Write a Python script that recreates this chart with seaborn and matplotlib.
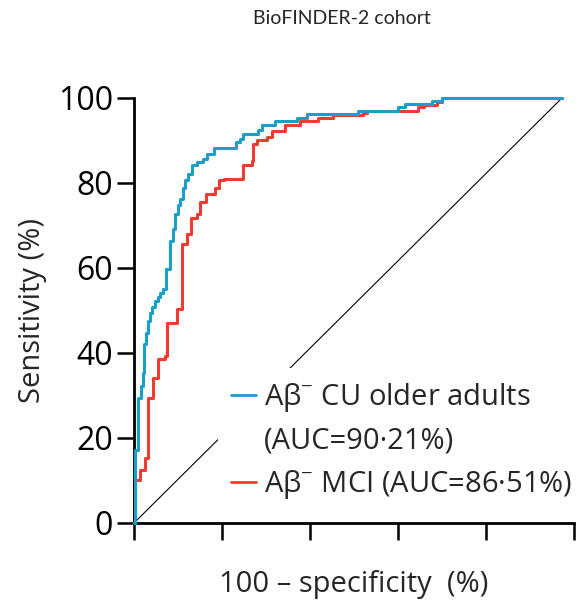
import numpy as np
import pandas as pd
import matplotlib.pyplot as plt
from matplotlib.lines import Line2D
import seaborn as sns

# ROC curves (100 - specificity, sensitivity), in %
cu_fpr = [0, 0.2, 0.9, 1.6, 2.1, 2.3, 2.8, 3.3, 3.7, 4.2, 4.9, 5.6, 6.1, 6.8,
          7.5, 8.4, 9.1, 9.6, 10.3, 10.7, 11.5, 11.9, 12.6, 13.6, 14.7, 16.1,
          17.1, 18.7, 23.8, 24.8, 25.5, 29.0, 29.9, 32.9, 38.1, 40.4, 52.3,
          61.7, 63.3, 69.6, 72.0, 100]
cu_tpr = [0, 17.1, 29.3, 32.3, 35.4, 42.2, 44.7, 47.5, 49.4, 50.8, 52.2, 53.2,
          54.1, 55.0, 59.7, 66.3, 69.1, 72.6, 74.9, 76.3, 78.7, 80.8, 82.2,
          84.3, 85.0, 85.7, 86.7, 88.3, 89.7, 90.4, 91.6, 92.5, 93.7, 94.6,
          95.3, 96.3, 97.0, 97.9, 98.6, 99.3, 100, 100]

mci_fpr = [0, 0.0, 1.4, 2.6, 3.3, 4.4, 5.6, 7.2, 7.7, 10.1, 11.2, 12.4, 13.3,
           14.7, 15.4, 16.8, 18.9, 19.9, 21.0, 25.5, 27.6, 27.8, 28.7, 31.1,
           32.2, 35.3, 38.8, 43.0, 46.5, 53.5, 54.4, 66.4, 67.8, 70.8, 72.0, 100]
mci_tpr = [0, 10.1, 12.4, 15.2, 29.3, 34.2, 38.6, 39.3, 47.1, 50.4, 65.6, 67.9,
           71.7, 72.6, 75.6, 77.3, 78.7, 80.6, 81.0, 84.3, 85.2, 89.2, 90.2,
           90.9, 92.3, 93.7, 94.6, 95.3, 96.0, 96.5, 97.0, 97.9, 98.4, 99.1,
           100, 100]

chance = [0, 100]

cu_label = "A\u03b2$^{-}$ CU older adults"
cu_auc = "(AUC=90\u00b721%)"
mci_label = "A\u03b2$^{-}$ MCI (AUC=86\u00b751%)"
colors = ["#1aa0c8", "#f23a30"]

sns.set_style("ticks")
plt.rcParams["font.family"] = ["Open Sans", "DejaVu Sans"]
plt.rcParams["mathtext.fontset"] = "custom"
plt.rcParams["mathtext.rm"] = "Open Sans"
plt.rcParams["mathtext.it"] = "Open Sans:italic"
plt.rcParams["mathtext.bf"] = "Open Sans:bold"

fig = plt.figure(figsize=(5.85, 6.07), dpi=100)
ax = fig.add_axes([0.2291, 0.1384, 0.7521, 0.7002])

sns.lineplot(x=chance, y=chance, ax=ax, color="black", lw=0.8, zorder=1)
sns.lineplot(x=cu_fpr, y=cu_tpr, ax=ax, color=colors[0], lw=2.2, sort=False,
             estimator=None, drawstyle="steps-post", clip_on=False, zorder=3)
sns.lineplot(x=mci_fpr, y=mci_tpr, ax=ax, color=colors[1], lw=2.2, sort=False,
             estimator=None, drawstyle="steps-post", clip_on=False, zorder=2)

x_max = 102.8
ax.set_xlim(0, x_max)
ax.set_ylim(0, 100)
ax.set_xticks(np.linspace(0, x_max, 6))
ax.set_xticklabels([])
ax.set_yticks([0, 20, 40, 60, 80, 100])
ax.tick_params(length=12, width=1.8, labelsize=23, pad=3, colors="black")
for s in ["left", "bottom"]:
    ax.spines[s].set_linewidth(2)
    ax.spines[s].set_color("black")
sns.despine(ax=ax)

ax.set_ylabel("Sensitivity (%)", fontsize=21, labelpad=8)
ax.set_xlabel("100 \u2013 specificity  (%)", fontsize=21, labelpad=19)

handles = [Line2D([], [], color=colors[0], lw=2),
           Line2D([], [], color="none", lw=0),
           Line2D([], [], color=colors[1], lw=2)]
leg = ax.legend(handles, [cu_label, cu_auc, mci_label], loc="lower left",
                bbox_to_anchor=(0.19, 0.021), fontsize=21, handlelength=0.85,
                handletextpad=0.3, labelspacing=0.43, borderpad=0.45,
                borderaxespad=0, frameon=True, framealpha=1,
                facecolor="white", edgecolor="none", fancybox=False)

fig.text(342 / 585, 1 - 18 / 607, "BioFINDER-2 cohort", ha="center",
         va="center", fontsize=14, family=["Lato", "DejaVu Sans"])

fig.savefig("out.png", dpi=100)
